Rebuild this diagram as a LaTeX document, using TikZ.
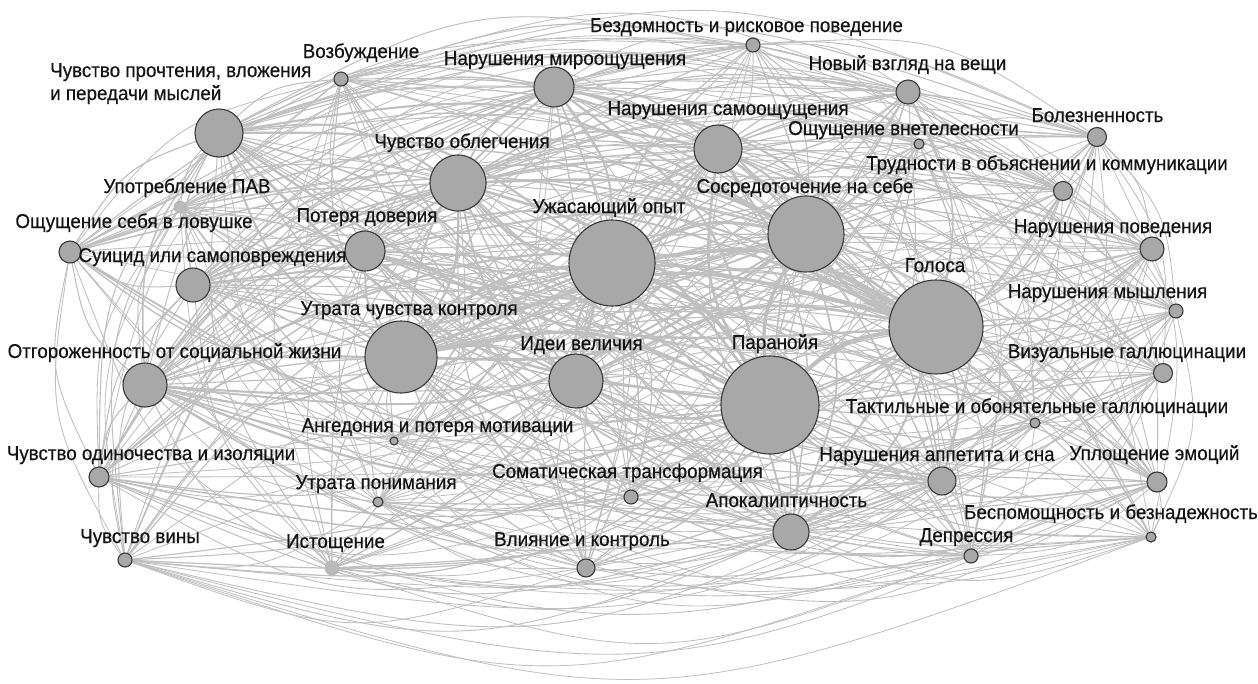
\documentclass[tikz,border=0pt]{standalone}
\usepackage{fontspec}
\setmainfont[FakeStretch=0.94,FakeBold=0.5]{Liberation Sans}
\tikzset{
 nd/.style={circle, draw=black!78, line width=1.1pt, fill=black!34, inner sep=0pt},
 ndf/.style={circle, draw=black!30, line width=0.6pt, fill=black!27, inner sep=0pt},
 lbl/.style={inner sep=0pt, anchor=base, text=black!92, font=\fontsize{20}{23}\selectfont},
 link/.style={draw=black!25, line cap=round},
}
\newcommand\edg[4]{%
  \pgfmathsetmacro\exa{\csname px#1\endcsname}%
  \pgfmathsetmacro\eya{\csname py#1\endcsname}%
  \pgfmathsetmacro\exb{\csname px#2\endcsname}%
  \pgfmathsetmacro\eyb{\csname py#2\endcsname}%
  \pgfmathsetmacro\emx{(\exa+\exb)/2}%
  \pgfmathsetmacro\emy{(\eya+\eyb)/2}%
  \pgfmathsetmacro\edx{\exb-\exa}%
  \pgfmathsetmacro\edy{\eyb-\eya}%
  \pgfmathsetmacro\edot{(-\edy/100)*((\emx-622)/100)+(\edx/100)*((\emy-310)/100)}%
  \pgfmathsetmacro\ein{((\emx-622)/420)^2+((\emy-310)/200)^2}%
  \pgfmathsetmacro\es{\ein<0.45?(mod(#4,2)==0?0.17:-0.17):(\edot>0?0.17:-0.17)}%
  \pgfmathsetmacro\ecx{\emx-\es*\edy}%
  \pgfmathsetmacro\ecy{\emy+\es*\edx}%
  \draw[link,line width=#3pt] (p#1) .. controls (\ecx,\ecy) .. (p#2);
}
\begin{document}
\begin{tikzpicture}[x=1pt,y=-1pt]
\useasboundingbox (0,0) rectangle (1258,683);
\foreach \i/\x/\y/\r in {
 1/753/45/7, 2/341/79/7, 3/554/87/20, 4/908/92/12, 5/219/133/24,
 6/718/149/24, 7/919/144/5, 8/1097/137/9.5, 9/458/183/28, 10/1063/191/9.5,
 11/180/207/6, 12/806/234/38, 13/612/263/43, 14/365/251/20, 15/70/252/11,
 16/193/285/17, 17/1152/249/12, 18/936/327/47, 19/1176/311/7, 20/401/357/36,
 21/145/385/22, 22/576/381/27, 23/770/405/49, 24/1163/373/9.5, 25/1035/423/5,
 26/394/441/4, 27/99/477/10, 28/942/481/14, 29/1157/482/10, 30/631/497/7,
 31/378/502/5, 32/791/532/18, 33/1151/537/5, 34/125/560/7, 35/332/568/7,
 36/586/568/9, 37/971/556/7}{
  \coordinate (p\i) at (\x,\y);
  \expandafter\xdef\csname r\i\endcsname{\r}
  \expandafter\xdef\csname px\i\endcsname{\x}
  \expandafter\xdef\csname py\i\endcsname{\y}
}
\foreach \i in {1,...,36}{
  \pgfmathtruncatemacro\ip{\i+1}
  \foreach \j in {\ip,...,37}{
    \pgfmathsetmacro\ri{\csname r\i\endcsname}
    \pgfmathsetmacro\rj{\csname r\j\endcsname}
    \pgfmathsetmacro\pr{(\ri+\rj)/45+0.2}
    \pgfmathtruncatemacro\hh{mod(mod(\i*\i*7,101)+mod(\j*\j*5,101)+mod(\i*\j*3,101)+\i*17+\j*23,101)}
    \pgfmathsetmacro\hu{\hh/101}
    \pgfmathsetmacro\lw{0.75+\ri*\rj/700}
    \pgfmathtruncatemacro\hp{\i+\j+\hh}
    \ifdim\hu pt<\pr pt \edg{\i}{\j}{\lw}{\hp}\fi
  }
}
\foreach \i/\s in {1/nd,2/nd,3/nd,4/nd,5/nd,6/nd,7/nd,8/nd,9/nd,10/nd,11/ndf,12/nd,13/nd,14/nd,15/nd,16/nd,17/nd,18/nd,19/nd,20/nd,21/nd,22/nd,23/nd,24/nd,25/nd,26/nd,27/nd,28/nd,29/nd,30/nd,31/nd,32/nd,33/nd,34/nd,35/ndf,36/nd,37/nd}{
  \node[\s, minimum size=2*\csname r\i\endcsname] (n\i) at (p\i) {};
}
\node[lbl] (t1) at (746.5,32) {Бездомность и рисковое поведение};
\node[lbl] (t2) at (361,58) {Возбуждение};
\node[lbl] (t3) at (565,65) {Нарушения мироощущения};
\node[lbl] (t4) at (907.5,70) {Новый взгляд на вещи};
\node[lbl, anchor=base west] (t5) at (50,77) {\vtop{\baselineskip=23pt\hbox{Чувство прочтения, вложения}\hbox{и передачи мыслей}}};
\node[lbl] (t6) at (462,148) {Чувство облегчения};
\node[lbl] (t7) at (728,115) {Нарушения самоощущения};
\node[lbl] (t8) at (903.5,135) {Ощущение внетелесности};
\node[lbl] (t9) at (1097.5,122) {Болезненность};
\node[lbl] (t10) at (1047,170) {Трудности в объяснении и коммуникации};
\node[lbl] (t11) at (187,193) {Употребление ПАВ};
\node[lbl] (t12) at (805,193) {Сосредоточение на себе};
\node[lbl] (t13) at (609,213) {Ужасающий опыт};
\node[lbl] (t14) at (367,222) {Потеря доверия};
\node[lbl] (t15) at (134,228) {Ощущение себя в ловушке};
\node[lbl] (t16) at (212.5,262) {Суицид или самоповреждения};
\node[lbl] (t17) at (1113,233) {Нарушения поведения};
\node[lbl] (t18) at (935,272) {Голоса};
\node[lbl] (t19) at (1107.5,298) {Нарушения мышления};
\node[lbl] (t20) at (409,315) {Утрата чувства контроля};
\node[lbl] (t21) at (174.5,358) {Отгороженность от социальной жизни};
\node[lbl] (t22) at (581.5,350) {Идеи величия};
\node[lbl] (t23) at (775,349) {Паранойя};
\node[lbl] (t24) at (1127,358) {Визуальные галлюцинации};
\node[lbl] (t25) at (1037,413) {Тактильные и обонятельные галлюцинации};
\node[lbl] (t26) at (437.5,432) {Ангедония и потеря мотивации};
\node[lbl] (t27) at (151,460) {Чувство одиночества и изоляции};
\node[lbl] (t28) at (937,461) {Нарушения аппетита и сна};
\node[lbl] (t29) at (1154.5,460) {Уплощение эмоций};
\node[lbl] (t30) at (627.5,478) {Соматическая трансформация};
\node[lbl] (t31) at (376,489) {Утрата понимания};
\node[lbl] (t32) at (786.5,507) {Апокалиптичность};
\node[lbl] (t33) at (1111,519) {Беспомощность и безнадежность};
\node[lbl] (t34) at (140,543) {Чувство вины};
\node[lbl] (t35) at (335.5,548) {Истощение};
\node[lbl] (t36) at (582,546) {Влияние и контроль};
\node[lbl] (t37) at (966.5,542) {Депрессия};
\end{tikzpicture}
\end{document}
